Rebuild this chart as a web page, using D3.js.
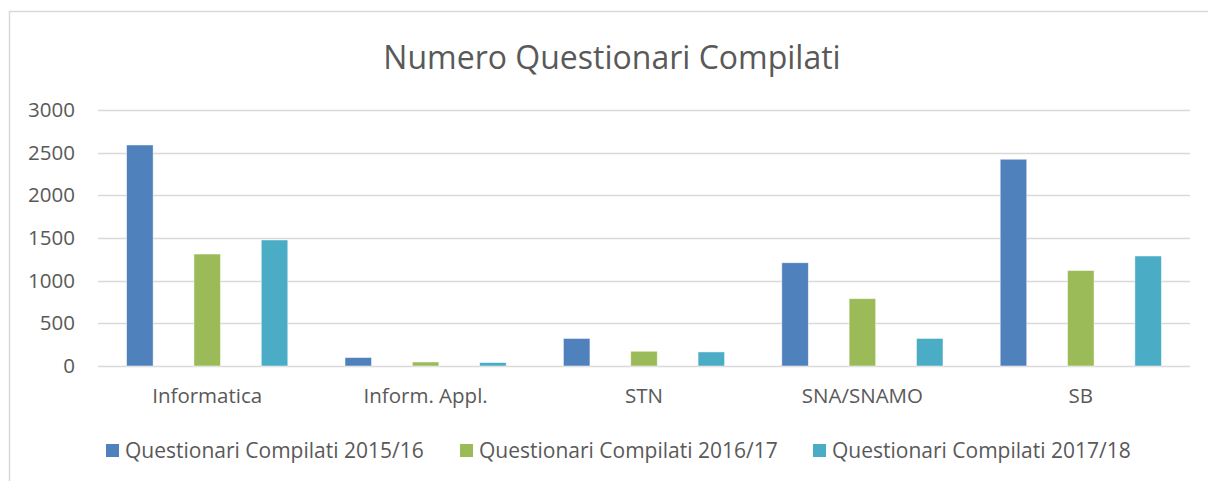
<!DOCTYPE html>
<html lang="it"><head>
<meta charset="utf-8">
<title>Numero Questionari Compilati</title>
<script src="https://cdn.jsdelivr.net/npm/d3@7"></script>
<style>
  body { margin: 0; background: #fff; }
  text { font-family: "Open Sans", Lato, sans-serif; fill: #595959; }
</style>
</head>
<body>
<script type="text/javascript">

var width = 1208;
var height = 481;

// data
var categories = ["Informatica", "Inform. Appl.", "STN", "SNA/SNAMO", "SB"];
var seriesNames = ["Questionari Compilati 2015/16", "Questionari Compilati 2016/17", "Questionari Compilati 2017/18"];
var values2015 = [2590, 99, 323, 1210, 2423];
var values2016 = [1312, 47, 173, 789, 1119];
var values2017 = [1477, 40, 165, 323, 1289];
var yTicks = [0, 500, 1000, 1500, 2000, 2500, 3000];
var colors = ["#4f81bd", "#9bbb59", "#4bacc6"];

var seriesValues = [values2015, values2016, values2017];
var labelFont = "\"Open Sans\", Lato, sans-serif";

var svg = d3.select("body").append("svg")
            .attr("width", width)
            .attr("height", height);

// chart frame (cropped at right and bottom)
svg.append("rect")
    .attr("x", 9.5).attr("y", 11.5)
    .attr("width", 1220).attr("height", 500)
    .attr("fill", "none")
    .attr("stroke", "#d9d9d9")
    .attr("stroke-width", 1.5);

svg.append("text")
    .attr("x", 612).attr("y", 69)
    .attr("text-anchor", "middle")
    .style("font-size", "32px")
    .text("Numero Questionari Compilati");

var x0 = d3.scaleBand().domain(categories).range([98, 1190]);
var x1 = d3.scaleBand().domain(d3.range(3)).range([-80.6, 80.6]).paddingInner(0.606);
var y = d3.scaleLinear().domain([0, 3000]).range([366, 110]);

// grid lines
svg.append("g")
    .selectAll("line")
    .data(yTicks)
    .enter()
    .append("line")
    .attr("x1", 98).attr("x2", 1190)
    .attr("y1", function(d){ return Math.round(y(d)) + 0.5; })
    .attr("y2", function(d){ return Math.round(y(d)) + 0.5; })
    .attr("stroke", "#d9d9d9")
    .attr("stroke-width", 1.5);

var yAxis = svg.append("g")
    .attr("transform", "translate(75,0)")
    .call(d3.axisLeft(y).tickValues(yTicks).tickFormat(d3.format("d")).tickSize(0).tickPadding(0));
yAxis.select(".domain").remove();
yAxis.selectAll("text")
    .attr("fill", "#595959")
    .style("font-family", labelFont)
    .style("font-size", "20.5px");

var groups = svg.append("g")
    .selectAll("g")
    .data(categories)
    .enter()
    .append("g")
    .attr("transform", function(d){ return "translate(" + (x0(d) + x0.bandwidth() / 2) + ",0)"; });

groups.selectAll("rect")
    .data(function(d, i){ return seriesValues.map(function(s, k){ return {k: k, v: s[i]}; }); })
    .enter()
    .append("rect")
    .attr("x", function(d){ return x1(d.k); })
    .attr("width", x1.bandwidth())
    .attr("y", function(d){ return y(d.v); })
    .attr("height", function(d){ return y(0) - y(d.v); })
    .attr("fill", function(d){ return colors[d.k]; })
    .attr("stroke", "#ffffff")
    .attr("stroke-opacity", 0.6)
    .attr("stroke-width", 0.8);

var xAxis = svg.append("g")
    .attr("transform", "translate(0,366)")
    .call(d3.axisBottom(x0).tickSize(0).tickPadding(0));
xAxis.select(".domain").remove();
xAxis.selectAll("text")
    .attr("y", 37)
    .attr("dy", 0)
    .attr("fill", "#595959")
    .style("font-family", labelFont)
    .style("font-size", "20.5px");

// legend
var legendX = [106, 460, 813];
var legend = svg.append("g")
    .selectAll("g")
    .data(seriesNames)
    .enter()
    .append("g")
    .attr("transform", function(d, i){ return "translate(" + legendX[i] + ",444)"; });

legend.append("rect")
    .attr("width", 13).attr("height", 13)
    .attr("fill", function(d, i){ return colors[i]; });

legend.append("text")
    .attr("x", 19).attr("y", 14)
    .style("font-size", "21px")
    .text(function(d){ return d; });

</script>
</body></html>
